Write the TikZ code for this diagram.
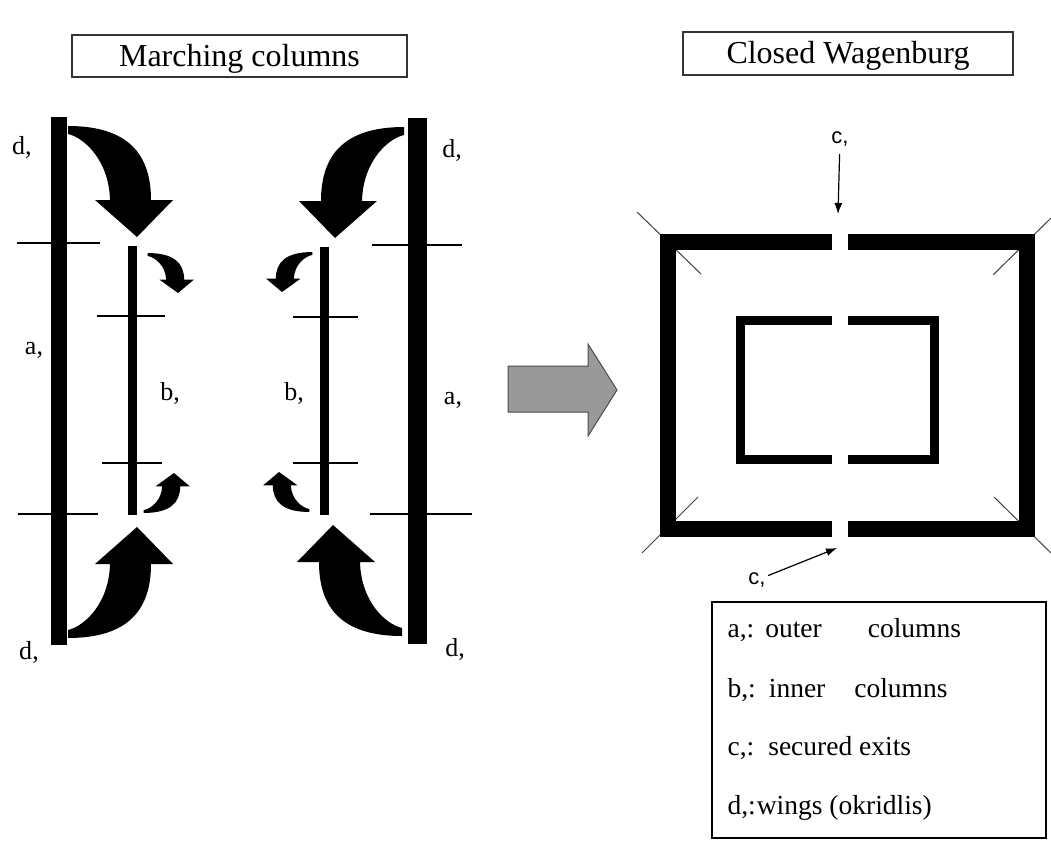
\documentclass[tikz,border=0pt]{standalone}
\usepackage{fontspec}
\setmainfont{Liberation Serif}
\newfontfamily\gapfont{Liberation Sans}
\usetikzlibrary{arrows.meta}

\begin{document}
\begin{tikzpicture}[x=1pt, y=-1pt, line width=1.2pt,
                    lbl/.style = {inner sep=1pt, font=\fontsize{26}{30}\selectfont},
                    heading/.style = {draw=black!80, line width=1.4pt, inner sep=0pt,
                                      text height=23pt, text depth=3pt,
                                      font=\fontsize{32}{36}\selectfont},
                    keyline/.style = {anchor=west, inner sep=0pt, font=\fontsize{27.5}{31}\selectfont},
                    gaplbl/.style = {inner sep=2pt, font=\gapfont\fontsize{22}{26}\selectfont},
                    pointer/.style = {line width=1.2pt, -{Latex[length=11pt, width=8pt]}},
                    corner/.style = {line width=1pt, draw=black!75},
                    wall/.style = {line width=16pt},
                    innerwall/.style = {line width=9pt},
                    bigarrow/.pic = {\fill (0,0) -- (36,-37) -- (14,-37)
                                       .. controls (14,-82) and (-8,-111) .. (-69,-111)
                                       -- (-69,-103)
                                       .. controls (-52,-99) and (-28,-76) .. (-27,-37)
                                       -- (-42,-37) -- cycle;}]
      \useasboundingbox (0,0) rectangle (1051,841);
      \node [heading, minimum width=335pt, minimum height=42pt] (march) at (239.5,56) {Marching columns};
      \node [heading, minimum width=330pt, minimum height=43pt] (closed) at (848,53.5) {Closed Wagenburg};
      \fill (51,117) rectangle (67,645); \fill (128,246) rectangle (137,515);
      \fill (320,247) rectangle (329,515); \fill (408,118) rectangle (427,644);
      \draw (17,243) -- (100,243); \draw (18,514) -- (98,514);
      \draw (97,316) -- (165,316); \draw (102,463) -- (162,463);
      \draw (293,317) -- (358,317); \draw (293,463) -- (358,463);
      \draw (372,245) -- (462,245); \draw (370,514) -- (472,514);
      \pic at (137,237) {bigarrow};
      \pic [xscale=-1] at (335,238) {bigarrow};
      \pic [yscale=-1] at (137,527) {bigarrow};
      \pic [xscale=-1, yscale=-1] at (333,525) {bigarrow};
      \pic [xscale=0.44, yscale=0.36] at (178,293) {bigarrow};
      \pic [xscale=-0.44, yscale=0.36] at (282,292) {bigarrow};
      \pic [xscale=0.44, yscale=-0.36] at (174,473) {bigarrow};
      \pic [xscale=-0.44, yscale=-0.36] at (279,472) {bigarrow};
      \node [lbl] (dtl) at (22,147) {d,};
      \node [lbl] (dtr) at (452,150) {d,};
      \node [lbl] (dbl) at (29,652) {d,};
      \node [lbl] (dbr) at (455,649) {d,};
      \node [lbl] (aleft) at (34,350) {a,};
      \node [lbl] (aright) at (453,400) {a,};
      \node [lbl] (bleft) at (170,393) {b,};
      \node [lbl] (bright) at (294,393) {b,};
      \filldraw [fill=black!40, draw=black!70, line width=1pt] (508,366) -- (588,366) -- (588,344)
        -- (617,390) -- (588,436) -- (588,412) -- (508,412) -- cycle;
      \draw [corner] (637,212) -- (701,274); \draw [corner] (1051,218) -- (993,275);
      \draw [corner] (642,553) -- (698,497); \draw [corner] (1051,553) -- (994,497);
      \draw [wall] (832,242) -- (668,242) -- (668,529) -- (832,529);
      \draw [wall] (848,242) -- (1027,242) -- (1027,529) -- (848,529);
      \draw [innerwall] (832,320.5) -- (740.5,320.5) -- (740.5,459.5) -- (832,459.5);
      \draw [innerwall] (848,320.5) -- (934.5,320.5) -- (934.5,459.5) -- (848,459.5);
      \node [gaplbl] (ctop) at (840,139) {c,};
      \coordinate (ctip) at (838,214);
      \draw [pointer, shorten <=5pt] (ctop) -- (ctip);
      \node [gaplbl] (cbot) at (757,580) {c,};
      \coordinate (cbtip) at (837,548);
      \draw [pointer] (cbot) -- (cbtip);
      \node [draw, line width=1.2pt, minimum width=334pt, minimum height=236pt] (legend) at (879,720) {};
      \node [keyline] (keya) at (727,630) {a,:\hspace{11pt}outer\hspace{46pt}columns};
      \node [keyline] (keyb) at (727,690) {b,:\hspace{13pt}inner\hspace{29pt}columns};
      \node [keyline] (keyc) at (727,748) {c,:\hspace{14pt}secured exits};
      \node [keyline] (keyd) at (727,808) {d,:\hspace{1pt}wings (okridlis)};
    \end{tikzpicture}
\end{document}
